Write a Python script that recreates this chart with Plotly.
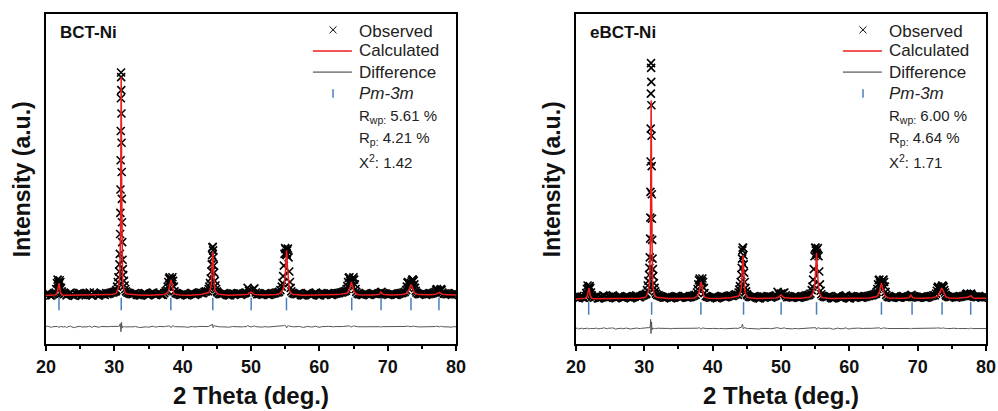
import plotly.graph_objects as go

# ---------------- data ----------------
two_theta = [
    20.0, 20.2, 20.4, 20.6, 20.8, 21.0, 21.2,
    21.4, 21.5, 21.6, 21.7, 21.8, 21.85, 21.9, 21.95, 22.0, 22.1, 22.2, 22.3, 22.4,
    22.6, 22.8, 23.0, 23.2, 23.4, 23.6, 23.8, 24.0, 24.2, 24.4, 24.6, 24.8, 25.0, 25.2, 25.4, 25.6, 25.8, 26.0, 26.2, 26.4,
    26.6, 26.8, 27.0, 27.2, 27.4, 27.6, 27.8, 28.0, 28.2, 28.4, 28.6, 28.8, 29.0, 29.2, 29.4, 29.6, 29.8, 30.0, 30.2,
    30.3, 30.4, 30.5, 30.6, 30.7, 30.75, 30.8, 30.85, 30.88, 30.9, 30.92, 30.94, 30.96, 30.98, 31.0, 31.02, 31.04, 31.06, 31.08, 31.1, 31.12, 31.15, 31.2, 31.25, 31.3, 31.4, 31.5, 31.6, 31.7,
    31.9, 32.1, 32.3, 32.5, 32.7, 32.9, 33.1, 33.3, 33.5, 33.7, 33.9, 34.1, 34.3, 34.5, 34.7, 34.9, 35.1, 35.3, 35.5, 35.7, 35.9, 36.1, 36.3, 36.5, 36.7, 36.9, 37.1, 37.3, 37.5,
    37.7, 37.8, 37.9, 38.0, 38.1, 38.2, 38.3, 38.4, 38.5, 38.6, 38.7, 38.8,
    39.0, 39.2, 39.4, 39.6, 39.8, 40.0, 40.2, 40.4, 40.6, 40.8, 41.0, 41.2, 41.4, 41.6, 41.8, 42.0, 42.2, 42.4, 42.6, 42.8, 43.0, 43.2, 43.4,
    43.7, 43.8, 43.9, 44.0, 44.1, 44.2, 44.25, 44.3, 44.35, 44.4, 44.45, 44.5, 44.55, 44.6, 44.7, 44.8, 44.9, 45.0, 45.1,
    45.3, 45.5, 45.7, 45.9, 46.1, 46.3, 46.5, 46.7, 46.9, 47.1, 47.3, 47.5, 47.7, 47.9, 48.1, 48.3, 48.5, 48.7, 48.9, 49.1,
    49.3, 49.5, 49.7, 49.9, 50.0, 50.1, 50.3, 50.5, 50.7,
    50.9, 51.1, 51.3, 51.5, 51.7, 51.9, 52.1, 52.3, 52.5, 52.7, 52.9, 53.1, 53.3, 53.5, 53.7, 53.9, 54.1,
    54.3, 54.5, 54.6, 54.7, 54.8, 54.9, 55.0, 55.05, 55.1, 55.15, 55.2, 55.25, 55.3, 55.4, 55.5, 55.6, 55.7, 55.8, 55.9,
    56.1, 56.3, 56.5, 56.7, 56.9, 57.1, 57.3, 57.5, 57.7, 57.9, 58.1, 58.3, 58.5, 58.7, 58.9, 59.1, 59.3, 59.5, 59.7, 59.9,
    60.1, 60.3, 60.5, 60.7, 60.9, 61.1, 61.3, 61.5, 61.7, 61.9, 62.1, 62.3, 62.5, 62.7, 62.9, 63.1, 63.3, 63.5, 63.7,
    63.9, 64.0, 64.1, 64.2, 64.3, 64.4, 64.5, 64.6, 64.7, 64.8, 64.9, 65.0, 65.1, 65.2, 65.3, 65.4,
    65.6, 65.8, 66.0, 66.2, 66.4, 66.6, 66.8, 67.0, 67.2, 67.4, 67.6, 67.8, 68.0, 68.2, 68.4, 68.6, 68.8,
    69.0, 69.1,
    69.3, 69.5, 69.7, 69.9, 70.1, 70.3, 70.5, 70.7, 70.9, 71.1, 71.3, 71.5, 71.7, 71.9, 72.1, 72.3, 72.5,
    72.7, 72.8, 72.9, 73.0, 73.1, 73.2, 73.3, 73.4, 73.5, 73.6, 73.7, 73.8, 73.9, 74.0, 74.1, 74.2,
    74.4, 74.6, 74.8, 75.0, 75.2, 75.4, 75.6, 75.8, 76.0, 76.2, 76.4, 76.6, 76.8,
    77.0, 77.1, 77.2, 77.3, 77.4, 77.5, 77.6, 77.7, 77.8, 77.9, 78.0,
    78.2, 78.4, 78.6, 78.8, 79.0, 79.2, 79.4, 79.6, 79.8, 80.0,
]

# BCT-Ni
obs_bct = [
    10, 11.5, 11, 9.5, 9.5, 10.5, 11,
    12, 15, 20, 23, 21, 19.5, 19, 20, 22.5, 21, 16, 13, 11.5,
    10.5, 11, 9.5, 10.5, 11, 12, 10, 9.5, 9, 10.5, 10.5, 11.5, 11.5, 10, 10, 11, 9.5, 10.5, 11, 12,
    10, 9.5, 12, 11, 10.5, 9.5, 9.5, 11, 11, 10.5, 10, 11.5, 10.5, 11, 11.5, 12, 12, 12.5, 13,
    14, 17, 21, 25, 30, 36, 45, 62, 80, 100, 125, 150, 178, 200, 196, 185, 165, 140, 115, 92, 72, 55, 40, 32, 27, 22, 18, 15, 13,
    12, 11.5, 11, 10.5, 10.5, 11, 11.5, 10, 10, 9.5, 9.5, 10.5, 11, 11.5, 10.5, 9.5, 10, 11, 11.5, 12, 10.5, 10, 10.5, 11.5, 11, 10, 10, 11.5, 13,
    14, 17, 21, 24, 25, 23, 22, 23.5, 25, 22, 17, 13,
    11.5, 11, 10.5, 10, 10, 10.5, 11, 10, 9.5, 10, 10.5, 11.5, 11.5, 10.5, 10, 10.5, 11, 12, 12, 11.5, 11.5, 12.5, 13,
    13, 15, 17, 20, 24, 30, 36, 44, 50.5, 51, 48, 42, 35, 29, 22, 18, 15, 13, 12,
    11, 10.5, 10.5, 11, 11.5, 10.5, 10, 9.5, 9.5, 10.5, 11, 11, 10.5, 11, 11.5, 11, 10, 10.5, 11, 11.5,
    12, 16, 13.5, 12.5, 13, 13, 14.5, 15.5, 12,
    10.5, 10.5, 11, 10.5, 10, 11, 11.5, 10.5, 10, 10, 10.5, 11, 11, 11.5, 12, 12, 12.5,
    14, 17, 20, 26, 35, 45, 50, 49, 46, 44.5, 44, 45.5, 48, 49.5, 42, 30, 21, 16, 13,
    11.5, 11, 10.5, 10.5, 11, 11.5, 10, 9.5, 9.5, 10, 11, 11.5, 10.5, 10, 10, 10.5, 11.5, 12, 10, 9.5,
    9.5, 10.5, 11, 11, 10.5, 11, 11.5, 11, 10, 10, 10.5, 11, 11, 11.5, 11.5, 12, 12, 12.5, 13,
    13.5, 15, 17.5, 21, 24.5, 25, 22, 20, 21, 22.5, 24, 25, 23, 19, 15, 12.5,
    11, 10.5, 10.5, 10, 10, 11, 11.5, 10.5, 10, 10, 10.5, 11, 11, 10.5, 10.5, 11, 11.5,
    12, 12.5,
    11.5, 11, 10.5, 10.5, 10, 10.5, 11, 11, 10.5, 10, 10, 10.5, 11, 11.5, 11.5, 12, 12.5,
    14, 17, 20.5, 21, 19.5, 18, 18.5, 20, 21.5, 23, 23, 22, 19, 16, 13.5, 12,
    11, 10.5, 10.5, 11, 11.5, 10.5, 10, 10.5, 10.5, 11, 11, 11.5, 12,
    12.5, 14, 15, 14, 13, 12.5, 13, 14, 15, 14, 12,
    11, 11, 10.5, 10.5, 11, 10.5, 10, 11, 11.5, 10.5,
]
calc_bct = [
    9.5, 9.5, 9.5, 9.5, 9.5, 9.6, 9.8,
    10, 10.5, 11.5, 13, 16.5, 19, 20, 18.5, 15.5, 12.5, 11, 10.3, 10,
    9.6, 9.6, 9.6, 9.6, 9.6, 9.6, 9.6, 9.6, 9.6, 9.6, 9.6, 9.6, 9.6, 9.6, 9.6, 9.6, 9.6, 9.6, 9.7, 9.7,
    9.7, 9.7, 9.7, 9.7, 9.7, 9.7, 9.8, 9.8, 9.8, 9.8, 9.9, 9.9, 10, 10.1, 10.2, 10.4, 10.5, 10.7, 11,
    12, 13, 14.5, 16.5, 20, 23, 28, 38, 50, 62, 85, 118, 160, 190, 196, 182, 150, 112, 80, 60, 46, 35, 26, 21, 18, 15, 13, 12, 11.3,
    10.8, 10.6, 10.4, 10.2, 10.1, 10, 9.9, 9.9, 9.8, 9.8, 9.7, 9.7, 9.7, 9.7, 9.7, 9.7, 9.7, 9.7, 9.7, 9.7, 9.8, 9.8, 9.8, 9.8, 9.9, 10, 10.2, 10.4, 10.8,
    11, 11.8, 13, 15, 17.5, 21, 23, 20, 16, 13, 11.5, 10.8,
    10.4, 10.2, 10, 9.9, 9.8, 9.8, 9.7, 9.7, 9.7, 9.7, 9.7, 9.7, 9.8, 9.8, 9.8, 9.9, 10, 10.1, 10.3, 10.5, 10.8, 11.1, 11.5,
    11.5, 12, 12.8, 14, 16, 20, 25, 33, 42, 47, 42, 33, 25, 20, 15, 13, 12, 11.3, 11,
    10.5, 10.3, 10.1, 10, 9.9, 9.8, 9.8, 9.7, 9.7, 9.7, 9.7, 9.7, 9.7, 9.8, 9.8, 9.8, 9.9, 10, 10.1, 10.2,
    10.2, 10.4, 10.8, 11.8, 12.5, 11.8, 10.8, 10.4, 10.2,
    10, 10, 9.9, 9.9, 9.8, 9.8, 9.8, 9.8, 9.8, 9.9, 9.9, 10, 10, 10.2, 10.3, 10.5, 10.8,
    11.5, 12.5, 13.5, 15, 17, 20.5, 26, 31, 38, 45, 48, 44, 36, 25, 18.5, 15, 13, 12, 11.3,
    10.5, 10.3, 10.1, 10, 9.9, 9.8, 9.8, 9.7, 9.7, 9.7, 9.7, 9.7, 9.7, 9.7, 9.7, 9.7, 9.7, 9.7, 9.7, 9.7,
    9.7, 9.7, 9.7, 9.7, 9.7, 9.7, 9.7, 9.8, 9.8, 9.9, 9.9, 10, 10.1, 10.2, 10.4, 10.5, 10.7, 10.9, 11,
    11, 11.3, 11.7, 12.3, 13.2, 14.5, 16.5, 19, 21, 18.5, 15.5, 13.5, 12.3, 11.6, 11.2, 10.8,
    10.3, 10.1, 10, 9.9, 9.9, 9.8, 9.8, 9.8, 9.8, 9.8, 9.8, 9.8, 9.9, 9.9, 10, 10.2, 10.4,
    12.5, 11.8,
    10.5, 10.2, 10, 9.9, 9.9, 9.8, 9.8, 9.8, 9.8, 9.9, 9.9, 10, 10, 10.1, 10.3, 10.5, 10.8,
    11, 11.4, 12, 12.8, 13.8, 15.3, 17, 18.5, 18, 16.3, 14.5, 13, 12, 11.4, 11, 10.7,
    10.4, 10.2, 10.1, 10, 10, 9.9, 9.9, 10, 10, 10.1, 10.1, 10.2, 10.4,
    10.6, 10.8, 11.1, 11.6, 12.2, 12.5, 12.1, 11.5, 11, 10.7, 10.5,
    10.2, 10.1, 10, 10, 9.9, 9.9, 9.9, 9.9, 9.9, 9.9,
]
diff_bct = [
    0.2, 0.8, 0.5, -0.2, -0.3, 0.3, 0.4,
    0.3, 0.6, 0.8, 0.5, 0.2, -0.3, -0.5, 0.2, 0.6, 0.4, 0.3, 0.2, 0.1,
    0.1, 0.4, -0.4, 0.2, 0.5, 0.8, 0, -0.2, -0.5, 0.1, 0.3, 0.7, 0.6, 0, -0.1, 0.4, -0.3, 0.2, 0.4, 0.8,
    0, -0.2, 0.7, 0.4, 0.2, -0.3, -0.2, 0.4, 0.3, 0.1, 0, 0.5, 0.1, 0.3, 0.5, 0.6, 0.5, 0.7, 0.8,
    0.5, 0.8, 1, 0.6, 0.4, 1, 1.5, 2.5, 3, 2, 0, -2, -4, -3, -1, 1, 3, 4, 2, 0.5, -1, -0.5, 0.5, 0.3, 0.2, 0.4, 0.3, 0.1, 0.2,
    0.4, 0.3, 0.2, 0.1, 0, 0.3, 0.5, -0.1, -0.2, -0.4, -0.3, 0.2, 0.3, 0.5, 0.2, -0.2, 0, 0.4, 0.6, 0.7, 0.1, -0.1, 0.1, 0.5, 0.4, -0.1, -0.2, 0.3, 0.5,
    0.4, 0.6, 0.9, 1, 0.8, 0.3, -0.5, 0.5, 1.2, 1, 0.6, 0.3,
    0.3, 0.3, 0.2, 0, 0, 0.2, 0.5, 0.1, -0.3, 0, 0.2, 0.6, 0.5, 0.1, 0, 0.2, 0.3, 0.5, 0.4, 0.2, 0.2, 0.4, 0.5,
    0.4, 0.6, 0.8, 1, 1.2, 1.5, 1.6, 2, 2.5, 1, -0.5, 0.5, 1.2, 1.5, 1, 0.8, 0.5, 0.3, 0.2,
    0.2, 0.2, 0.2, 0.4, 0.5, 0.2, 0, -0.2, -0.3, 0.2, 0.4, 0.3, 0.2, 0.4, 0.5, 0.3, -0.1, 0.1, 0.3, 0.4,
    0.3, 1.2, 0.6, 0.1, 0, 0.2, 0.7, 1, 0.3,
    0.1, 0.2, 0.3, 0.1, -0.1, 0.3, 0.5, 0.2, 0, 0.1, 0.2, 0.3, 0.3, 0.4, 0.5, 0.4, 0.4,
    0.4, 0.6, 0.7, 1, 1.2, 1.5, 1.5, 1.2, 0.5, -0.3, -0.8, -0.3, 0.8, 1.2, 1, 0.8, 0.6, 0.4, 0.3,
    0.3, 0.2, 0.1, 0.2, 0.4, 0.6, 0, -0.2, -0.3, 0, 0.5, 0.6, 0.3, 0, 0, 0.2, 0.6, 0.8, 0.1, -0.2,
    -0.2, 0.3, 0.5, 0.4, 0.3, 0.5, 0.6, 0.4, 0, 0, 0.2, 0.4, 0.3, 0.5, 0.4, 0.5, 0.4, 0.5, 0.6,
    0.4, 0.5, 0.7, 1, 1.2, 1, 0.5, 0.2, 0, 0.4, 0.8, 1, 0.8, 0.6, 0.4, 0.3,
    0.3, 0.2, 0.2, 0, 0, 0.3, 0.5, 0.2, 0, 0.1, 0.2, 0.4, 0.3, 0.1, 0.1, 0.2, 0.3,
    -0.2, 0.3,
    0.3, 0.3, 0.2, 0.2, 0, 0.2, 0.4, 0.4, 0.2, 0, 0, 0.2, 0.4, 0.4, 0.3, 0.4, 0.5,
    0.5, 0.7, 0.9, 0.8, 0.5, 0.3, 0.1, 0.2, 0.4, 0.7, 0.9, 0.8, 0.6, 0.4, 0.3, 0.2,
    0.2, 0.1, 0.1, 0.3, 0.5, 0.2, 0, 0.2, 0.2, 0.3, 0.3, 0.4, 0.4,
    0.4, 0.8, 0.7, 0.3, 0, -0.2, 0.2, 0.5, 0.8, 0.6, 0.3,
    0.2, 0.3, 0.1, 0.1, 0.3, 0.1, -0.1, 0.3, 0.4, 0.2,
]

# eBCT-Ni
obs_ebct = [
    8, 9, 7, 8, 8.5, 7.5, 7.5,
    9, 11.5, 15, 18, 16, 15, 14.5, 15.5, 17.5, 16, 12, 9.5, 8.5,
    7.5, 8, 8.5, 7, 7, 8, 8, 9.5, 9, 7.5, 7.5, 8.5, 8, 9, 9.5, 8, 7, 7.5, 8, 8.5,
    8.5, 7.5, 7.5, 8.5, 9, 8, 8, 7, 7.5, 8.5, 8.5, 9.5, 9, 8, 8, 9, 9.5, 10, 10.5,
    11, 14, 18, 22, 27, 33, 42, 58, 76, 98, 124, 152, 182, 208, 204, 192, 172, 146, 120, 96, 75, 57, 41, 32, 26, 20, 16, 13, 11,
    10, 9.5, 9, 8.5, 8, 7.5, 7.5, 8, 8.5, 7.5, 7, 8, 8, 8.5, 9, 8.5, 7.5, 7.5, 8, 9, 9, 8, 7.5, 8, 8, 8.5, 9, 9.5, 10,
    12, 15, 19, 22.5, 24, 22, 21, 22, 24, 21, 16, 11.5,
    9, 8.5, 8, 7.5, 7.5, 8, 8.5, 7.5, 7, 7.5, 8, 9, 9, 8.5, 8, 8, 8.5, 9, 9.5, 9, 9, 10, 10.5,
    10, 12, 14.5, 17.5, 21, 27, 33, 41, 48, 50.5, 50, 44, 36, 29, 21, 16, 13, 10.5, 9.5,
    8.5, 8, 8, 8.5, 9, 8, 7.5, 7, 7, 8, 8.5, 8.5, 8, 8.5, 9, 8.5, 7.5, 8, 8.5, 9,
    9.5, 12.5, 10.5, 10, 11, 10.5, 11.5, 12, 9.5,
    8, 8, 8.5, 8, 7.5, 8.5, 9, 8, 7.5, 7.5, 8, 8.5, 8.5, 9, 9.5, 9.5, 10,
    11, 14, 17, 23, 32, 43, 50, 50.5, 48, 45, 44, 46, 49, 50, 43, 30, 19, 13.5, 10.5,
    9, 8.5, 8, 8, 8.5, 9, 7.5, 7, 7, 7.5, 8.5, 9, 8, 7.5, 7.5, 8, 9, 9.5, 7.5, 7,
    7, 8, 8.5, 8.5, 8, 8.5, 9, 8.5, 7.5, 7.5, 8, 8.5, 8.5, 9, 9, 9.5, 9.5, 10, 10.5,
    11, 12.5, 15, 19, 22.5, 23, 20, 18, 19.5, 21, 22.5, 23, 21, 17, 12.5, 10,
    8.5, 8, 8, 7.5, 7.5, 8.5, 9, 8, 7.5, 7.5, 8, 8.5, 8.5, 8, 8, 8.5, 9,
    9.5, 10,
    9, 8.5, 8, 8, 7.5, 8, 8.5, 8.5, 8, 7.5, 7.5, 8, 8.5, 9, 9, 9.5, 9.5,
    11, 13.5, 16, 17, 16, 14.5, 15, 16, 17, 18, 17.5, 16.5, 14, 12, 10, 9,
    8.5, 8, 8, 8.5, 9, 8, 7.5, 8, 8, 8.5, 8.5, 9, 9,
    9.5, 10.5, 11, 10.5, 10, 9.5, 10, 10.5, 11, 10, 9,
    8.5, 8.5, 8, 8, 9, 8, 7.5, 8.5, 8.5, 8,
]
calc_ebct = [
    6.5, 6.5, 6.5, 6.5, 6.5, 6.6, 6.8,
    7, 7.5, 8.5, 10, 13, 15, 16, 14.5, 12, 9.5, 8, 7.3, 7,
    6.6, 6.6, 6.6, 6.6, 6.6, 6.6, 6.6, 6.6, 6.6, 6.6, 6.6, 6.6, 6.6, 6.6, 6.6, 6.6, 6.6, 6.6, 6.7, 6.7,
    6.7, 6.7, 6.7, 6.7, 6.7, 6.7, 6.8, 6.8, 6.8, 6.8, 6.9, 6.9, 7, 7.1, 7.2, 7.4, 7.5, 7.7, 8,
    9, 10, 11.5, 13.5, 17, 20, 25, 35, 47, 58, 80, 110, 148, 172, 176, 160, 132, 100, 72, 54, 42, 32, 23, 18, 15, 12, 10, 9, 8.3,
    8, 7.8, 7.5, 7.3, 7.2, 7.1, 7, 7, 6.9, 6.9, 6.8, 6.8, 6.8, 6.8, 6.8, 6.8, 6.8, 6.8, 6.8, 6.8, 6.9, 6.9, 6.9, 6.9, 7, 7.1, 7.2, 7.4, 7.8,
    8.5, 9.3, 10.5, 12.5, 15, 19, 21, 18, 14, 11, 9.3, 8.3,
    7.6, 7.4, 7.2, 7.1, 7, 7, 6.9, 6.9, 6.9, 6.9, 6.9, 6.9, 7, 7, 7.1, 7.2, 7.3, 7.4, 7.6, 7.8, 8, 8.3, 8.6,
    8.4, 9, 9.8, 11, 13, 17, 22, 30, 38, 43, 44, 37, 28, 21, 14, 11, 9.5, 8.5, 8,
    7.6, 7.4, 7.2, 7.1, 7, 6.9, 6.9, 6.9, 6.9, 6.9, 6.9, 6.9, 6.9, 7, 7, 7, 7.1, 7.2, 7.3, 7.4,
    7.4, 7.7, 8.2, 9.3, 10, 9.3, 8.2, 7.7, 7.4,
    7.2, 7.2, 7.1, 7.1, 7, 7, 7, 7, 7, 7.1, 7.1, 7.2, 7.2, 7.4, 7.5, 7.7, 8,
    8.5, 9.5, 10.5, 12, 14, 17.5, 23, 28, 35, 42, 46, 42, 34, 22, 15.5, 12, 10, 9, 8.3,
    7.6, 7.4, 7.2, 7.1, 7, 6.9, 6.9, 6.9, 6.9, 6.9, 6.9, 6.9, 6.9, 6.9, 6.9, 6.9, 6.9, 6.9, 6.9, 6.9,
    6.9, 6.9, 6.9, 6.9, 6.9, 6.9, 6.9, 6.9, 7, 7, 7.1, 7.1, 7.2, 7.3, 7.4, 7.6, 7.7, 7.9, 8.2,
    8.3, 8.6, 9, 9.8, 11, 12.5, 15, 18, 20, 17.5, 14.5, 12, 10.5, 9.5, 8.8, 8.3,
    7.6, 7.4, 7.3, 7.2, 7.1, 7, 7, 7, 7, 7, 7, 7, 7.1, 7.1, 7.2, 7.4, 7.6,
    9.8, 9,
    7.6, 7.4, 7.2, 7.1, 7.1, 7, 7, 7, 7, 7.1, 7.1, 7.2, 7.2, 7.4, 7.5, 7.7, 8,
    8, 8.3, 8.7, 9.3, 10, 11, 12.5, 14.2, 15.5, 15, 13.5, 11.8, 10.3, 9.2, 8.5, 8.1,
    7.6, 7.4, 7.3, 7.2, 7.2, 7.1, 7.1, 7.2, 7.2, 7.3, 7.3, 7.4, 7.6,
    7.5, 7.6, 7.7, 7.9, 8.2, 8.6, 9.1, 9.5, 9.3, 8.5, 7.8,
    7.3, 7.2, 7.1, 7, 7, 7, 7, 7, 7, 7,
]
diff_ebct = [
    0.3, 0.6, -0.2, 0.2, 0.5, 0, 0.2,
    0.2, 0.4, 0.6, 0.5, 0.1, -0.2, -0.4, 0.2, 0.5, 0.3, 0.2, 0.1, 0,
    0.2, 0.4, 0.5, -0.1, -0.2, 0.3, 0.3, 0.8, 0.6, 0, 0, 0.5, 0.3, 0.6, 0.8, 0.2, -0.3, 0, 0.3, 0.4,
    0.5, 0, -0.1, 0.4, 0.6, 0.2, 0.2, -0.2, 0, 0.4, 0.3, 0.6, 0.5, 0.1, 0.1, 0.4, 0.6, 0.6, 0.7,
    0.5, 0.6, 0.8, 1, 0.6, 0.8, 1.5, 2, 3, 5, 8, 4, -1, -4, -3, 0, 3, 6, 4, 1, -1, -0.5, 0.3, 0.5, 0.3, 0.4, 0.2, 0.3, 0.1,
    0.5, 0.4, 0.3, 0.2, 0, 0.1, 0.2, 0.3, 0.4, 0, -0.1, 0.3, 0.3, 0.4, 0.5, 0.3, 0, 0, 0.2, 0.5, 0.4, 0.1, 0, 0.2, 0.2, 0.3, 0.4, 0.4, 0.5,
    0.3, 0.5, 0.8, 1, 0.7, 0.2, -0.3, 0.4, 1, 0.8, 0.5, 0.2,
    0.3, 0.2, 0.1, 0, 0, 0.2, 0.4, 0.1, -0.2, 0, 0.2, 0.4, 0.4, 0.2, 0, 0.1, 0.3, 0.4, 0.4, 0.3, 0.3, 0.4, 0.5,
    0.3, 0.5, 0.6, 0.8, 1, 1.3, 1.5, 2.5, 4, 3, 1, 0, 0.6, 1, 0.8, 0.5, 0.4, 0.2, 0.2,
    0.3, 0.2, 0.2, 0.4, 0.5, 0.2, 0, -0.1, -0.2, 0.3, 0.4, 0.3, 0.2, 0.4, 0.5, 0.3, 0, 0.2, 0.3, 0.4,
    0.3, 1, 0.5, 0.2, 0.3, 0.2, 0.6, 0.8, 0.3,
    0.1, 0.2, 0.3, 0.1, -0.1, 0.3, 0.5, 0.2, 0, 0.1, 0.2, 0.3, 0.3, 0.4, 0.5, 0.4, 0.4,
    0.3, 0.4, 0.5, 0.8, 1, 1.2, 1.3, 1, 0.5, -0.2, -0.5, -0.1, 0.6, 1, 0.8, 0.6, 0.4, 0.3, 0.2,
    0.4, 0.3, 0.2, 0.2, 0.4, 0.6, 0, -0.2, -0.3, 0, 0.5, 0.6, 0.3, 0, 0, 0.2, 0.6, 0.8, 0.1, -0.2,
    -0.2, 0.3, 0.5, 0.4, 0.3, 0.5, 0.6, 0.4, 0, 0, 0.2, 0.4, 0.3, 0.5, 0.4, 0.5, 0.4, 0.5, 0.6,
    0.3, 0.5, 0.6, 0.8, 1, 0.8, 0.4, 0.1, 0, 0.3, 0.7, 0.8, 0.7, 0.5, 0.3, 0.2,
    0.3, 0.2, 0.2, 0, 0, 0.3, 0.5, 0.2, 0, 0.1, 0.2, 0.4, 0.3, 0.1, 0.1, 0.2, 0.3,
    -0.2, 0.3,
    0.3, 0.3, 0.2, 0.2, 0, 0.2, 0.4, 0.4, 0.2, 0, 0, 0.2, 0.4, 0.4, 0.3, 0.4, 0.5,
    0.4, 0.6, 0.8, 0.7, 0.5, 0.2, 0.1, 0.2, 0.4, 0.6, 0.8, 0.7, 0.5, 0.3, 0.2, 0.2,
    0.2, 0.1, 0.1, 0.3, 0.5, 0.2, 0, 0.2, 0.2, 0.3, 0.3, 0.4, 0.4,
    0.3, 0.6, 0.5, 0.2, 0, -0.2, 0.2, 0.4, 0.6, 0.4, 0.2,
    0.2, 0.3, 0.1, 0.1, 0.3, 0.1, -0.1, 0.3, 0.4, 0.2,
]

# Bragg reflection positions (Pm-3m)
bragg_bct = [21.90, 31.01, 38.27, 44.41, 50.02, 55.19, 64.74, 69.03, 73.41, 77.50]
bragg_ebct = [21.86, 31.07, 38.28, 44.52, 50.02, 55.20, 64.70, 69.18, 73.57, 77.76]

legend_labels = ["Observed", "Calculated", "Difference", "<i>Pm-3m</i>"]
stats_bct = ["R<sub>wp:</sub> 5.61 %", "R<sub>p:</sub> 4.21 %", "X<sup>2</sup>: 1.42"]
stats_ebct = ["R<sub>wp:</sub> 6.00 %", "R<sub>p:</sub> 4.64 %", "X<sup>2</sup>: 1.71"]
x_title = "2 Theta (deg.)"
y_title = "Intensity (a.u.)"

for arr in (obs_bct, calc_bct, diff_bct, obs_ebct, calc_ebct, diff_ebct):
    assert len(arr) == len(two_theta), (len(arr), len(two_theta))

# ---------------- styling ----------------
FONT = "Liberation Sans, Arial, sans-serif"
DIFF_OFFSET = {"bct": -17.5, "ebct": -19.0}
BRAGG_Y = {"bct": 2.2, "ebct": -1.6}
Y_RANGE = [-32, 250]
OBS_COLOR = "#000000"
CALC_COLOR = "#ee1c1c"
DIFF_COLOR = "#555555"
BRAGG_COLOR = "#4a7ebb"

fig = go.Figure()


def add_panel(suffix, obs, calc, diff, bragg, key):
    xa, ya = "x" + suffix, "y" + suffix
    fig.add_trace(go.Scatter(
        x=two_theta, y=obs, mode="markers", name="Observed",
        xaxis=xa, yaxis=ya,
        marker=dict(symbol="x-thin", size=8, color=OBS_COLOR,
                    line=dict(width=1.6, color=OBS_COLOR))))
    fig.add_trace(go.Scatter(
        x=two_theta, y=calc, mode="lines", name="Calculated",
        xaxis=xa, yaxis=ya, line=dict(color=CALC_COLOR, width=1.5)))
    fig.add_trace(go.Scatter(
        x=two_theta, y=[d + DIFF_OFFSET[key] for d in diff], mode="lines",
        name="Difference", xaxis=xa, yaxis=ya,
        line=dict(color=DIFF_COLOR, width=1)))
    fig.add_trace(go.Scatter(
        x=bragg, y=[BRAGG_Y[key]] * len(bragg), mode="markers",
        name="Pm-3m", xaxis=xa, yaxis=ya,
        marker=dict(symbol="line-ns", size=9,
                    line=dict(width=1.5, color=BRAGG_COLOR))))


add_panel("", obs_bct, calc_bct, diff_bct, bragg_bct, "bct")
add_panel("2", obs_ebct, calc_ebct, diff_ebct, bragg_ebct, "ebct")

xaxis_common = dict(
    range=[20, 80], dtick=10, tick0=20, showgrid=False, zeroline=False,
    showline=True, linewidth=2, linecolor="black", mirror=True, automargin=False,
    ticks="outside", ticklen=5, tickwidth=1.5, tickcolor="black",
    minor=dict(dtick=5, ticks="outside", ticklen=3, tickwidth=1.5, tickcolor="black"),
    tickfont=dict(family=FONT, size=18, color="#111", weight="bold"),
)
yaxis_common = dict(
    range=Y_RANGE, showgrid=False, zeroline=False, showticklabels=False, ticks="",
    showline=True, linewidth=2, linecolor="black", mirror=True, automargin=False,
)

# ---- axis titles, in-panel legend and refinement statistics (panel-relative) ----
annotations, shapes = [], []
LEG_TEXT_X = 0.758
LEG_ROWS = [0.948, 0.888, 0.824, 0.759]
STAT_ROWS = [0.690, 0.624, 0.552]
for suffix, label, stats in (("", "BCT-Ni", stats_bct), ("2", "eBCT-Ni", stats_ebct)):
    xref, yref = "x%s domain" % suffix, "y%s domain" % suffix
    annotations.append(dict(xref=xref, yref=yref, x=0.5, y=-0.155, text="<b>" + x_title + "</b>",
                            showarrow=False, xanchor="center", yanchor="middle",
                            font=dict(family=FONT, size=24, color="#111")))
    annotations.append(dict(xref=xref, yref=yref, x=-0.058, y=0.5, text="<b>" + y_title + "</b>",
                            textangle=-90, showarrow=False, xanchor="center", yanchor="middle",
                            font=dict(family=FONT, size=23, color="#111")))
    annotations.append(dict(xref=xref, yref=yref, x=0.029, y=0.945, text="<b>" + label + "</b>",
                            showarrow=False, xanchor="left", yanchor="middle",
                            font=dict(family=FONT, size=17, color="#111")))
    for row, txt in zip(LEG_ROWS, legend_labels):
        annotations.append(dict(xref=xref, yref=yref, x=LEG_TEXT_X, y=row, text=txt,
                                showarrow=False, xanchor="left", yanchor="middle",
                                font=dict(family=FONT, size=17, color="#222")))
    for row, txt in zip(STAT_ROWS, stats):
        annotations.append(dict(xref=xref, yref=yref, x=LEG_TEXT_X, y=row, text=txt,
                                showarrow=False, xanchor="left", yanchor="middle",
                                font=dict(family=FONT, size=15, color="#222")))
    # legend keys
    cx, hw, hh = 0.700, 0.0085, 0.0105
    oy = LEG_ROWS[0] + 0.004
    shapes.append(dict(type="line", xref=xref, yref=yref, x0=cx - hw, x1=cx + hw, y0=oy - hh, y1=oy + hh,
                       line=dict(color=OBS_COLOR, width=1)))
    shapes.append(dict(type="line", xref=xref, yref=yref, x0=cx - hw, x1=cx + hw, y0=oy + hh, y1=oy - hh,
                       line=dict(color=OBS_COLOR, width=1)))
    shapes.append(dict(type="line", xref=xref, yref=yref, x0=0.651, x1=0.746, y0=LEG_ROWS[1], y1=LEG_ROWS[1],
                       line=dict(color=CALC_COLOR, width=1.5)))
    shapes.append(dict(type="line", xref=xref, yref=yref, x0=0.651, x1=0.746, y0=LEG_ROWS[2], y1=LEG_ROWS[2],
                       line=dict(color="#333333", width=1)))
    shapes.append(dict(type="line", xref=xref, yref=yref, x0=cx, x1=cx, y0=LEG_ROWS[3] - 0.013,
                       y1=LEG_ROWS[3] + 0.013, line=dict(color=BRAGG_COLOR, width=1.5)))

fig.update_layout(
    width=998, height=411,
    margin=dict(l=46, r=12, t=14, b=67),
    paper_bgcolor="white", plot_bgcolor="white",
    showlegend=False,
    xaxis=dict(domain=[0, 0.4362], anchor="y", **xaxis_common),
    yaxis=dict(domain=[0, 1], anchor="x", **yaxis_common),
    xaxis2=dict(domain=[0.5638, 1], anchor="y2", **xaxis_common),
    yaxis2=dict(domain=[0, 1], anchor="x2", **yaxis_common),
    annotations=annotations,
    shapes=shapes,
)

fig.write_html("out.html", config={"displayModeBar": False},
               post_script="document.body.style.margin='0px';")
